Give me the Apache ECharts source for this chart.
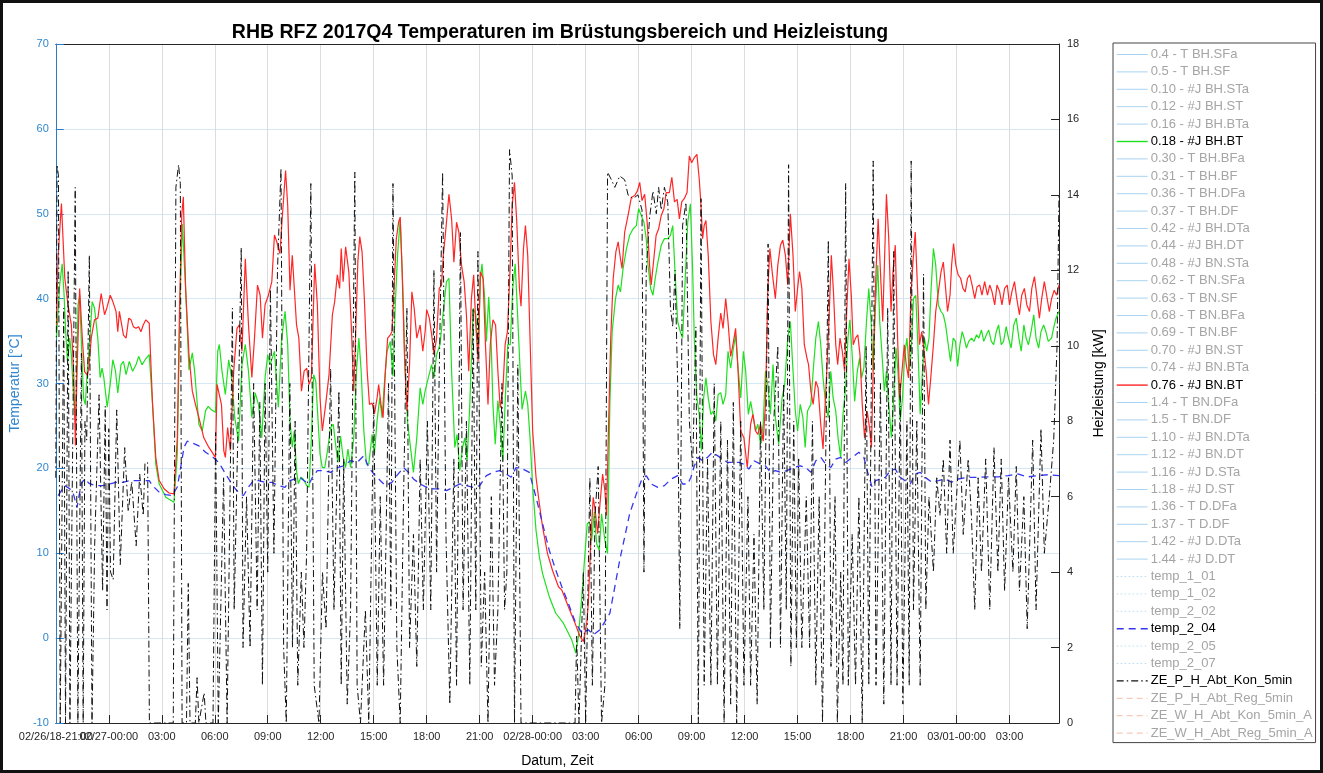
<!DOCTYPE html>
<html>
<head>
<meta charset="utf-8">
<script src="https://cdn.jsdelivr.net/npm/echarts@6/dist/echarts.min.js"></script>
<style>html,body{margin:0;padding:0;background:#fff}#c{width:1323px;height:773px}</style>
</head>
<body>
<div id="c"></div>
<script>
// ---- x axis ticks (hours since 02/27 00:00) ----
const xTickHours = [-3,0,3,6,9,12,15,18,21,24,27,30,33,36,39,42,45,48,51];
const xTickLabels = ['02/26/18-21:00','02/27-00:00','03:00','06:00','09:00','12:00','15:00','18:00','21:00','02/28-00:00','03:00','06:00','09:00','12:00','15:00','18:00','21:00','03/01-00:00','03:00'];

// ---- legend entries ----
const legendNames = ['0.4 - T BH.SFa','0.5 - T BH.SF','0.10 - #J BH.STa','0.12 - #J BH.ST','0.16 - #J BH.BTa','0.18 - #J BH.BT','0.30 - T BH.BFa','0.31 - T BH.BF','0.36 - T BH.DFa','0.37 - T BH.DF','0.42 - #J BH.DTa','0.44 - #J BH.DT','0.48 - #J BN.STa','0.62 - T BN.SFa','0.63 - T BN.SF','0.68 - T BN.BFa','0.69 - T BN.BF','0.70 - #J BN.ST','0.74 - #J BN.BTa','0.76 - #J BN.BT','1.4 - T BN.DFa','1.5 - T BN.DF','1.10 - #J BN.DTa','1.12 - #J BN.DT','1.16 - #J D.STa','1.18 - #J D.ST','1.36 - T D.DFa','1.37 - T D.DF','1.42 - #J D.DTa','1.44 - #J D.DT','temp_1_01','temp_1_02','temp_2_02','temp_2_04','temp_2_05','temp_2_07','ZE_P_H_Abt_Kon_5min','ZE_P_H_Abt_Reg_5min','ZE_W_H_Abt_Kon_5min_A','ZE_W_H_Abt_Reg_5min_A'];

// ---- 0.18 - #J BH.BT (green), [hour, °C] ----
const bhBT = [[-2.96,35.35],[-2.78,41.6],[-2.64,44.1],[-2.53,40.4],[-2.44,36.1],[-2.34,32.6],[-2.21,35.35],[-2.12,33.4],[-1.99,28.3],[-1.88,26.0],[-1.74,39.3],[-1.65,40.4],[-1.56,35.35],[-1.43,28.3],[-1.33,27.5],[-1.22,31.45],[-1.09,34.6],[-0.94,39.65],[-0.81,38.9],[-0.62,35.35],[-0.49,30.7],[-0.38,31.8],[-0.28,30.7],[-0.09,27.2],[0.08,29.9],[0.23,32.8],[0.38,31.45],[0.51,28.9],[0.69,32.2],[0.83,32.6],[0.98,31.05],[1.16,32.6],[1.35,31.45],[1.54,32.2],[1.69,33.2],[1.88,32.2],[2.06,32.8],[2.29,33.4],[2.48,27.5],[2.66,20.5],[2.85,18.2],[3.23,16.6],[3.69,16.0],[3.88,21.7],[4.03,39.3],[4.16,48.8],[4.35,41.2],[4.54,31.6],[4.73,33.6],[4.86,31.45],[5.1,25.2],[5.29,24.4],[5.48,26.8],[5.63,27.3],[5.81,26.9],[6.04,26.6],[6.17,33.8],[6.26,34.6],[6.41,31.45],[6.6,28.7],[6.79,32.8],[6.98,30.3],[7.13,26.0],[7.35,23.2],[7.54,32.2],[7.73,34.6],[7.91,31.45],[8.1,26.0],[8.29,28.9],[8.48,27.5],[8.66,23.6],[8.85,30.7],[9.0,33.4],[9.13,32.2],[9.38,33.8],[9.6,27.2],[9.79,35.35],[9.98,38.5],[10.13,34.6],[10.26,25.6],[10.39,22.5],[10.5,24.4],[10.63,19.7],[10.73,18.2],[10.88,18.95],[11.01,18.75],[11.21,17.97],[11.34,17.77],[11.47,23.6],[11.6,31.05],[11.72,30.27],[11.85,25.6],[11.96,21.7],[12.09,20.1],[12.23,20.1],[12.38,22.07],[12.56,24.8],[12.71,25.2],[12.84,22.85],[12.97,20.7],[13.12,23.8],[13.27,21.3],[13.41,20.1],[13.54,22.27],[13.69,20.1],[13.87,23.6],[14.02,31.45],[14.16,35.35],[14.29,31.45],[14.44,24.4],[14.59,20.5],[14.72,20.5],[14.91,24.0],[15.04,21.7],[15.19,25.6],[15.34,28.3],[15.47,25.98],[15.6,29.88],[15.75,33.8],[15.94,34.96],[16.09,30.86],[16.22,39.26],[16.35,45.1],[16.5,49.4],[16.65,41.2],[16.78,31.45],[16.91,25.6],[17.06,22.85],[17.25,19.53],[17.44,23.6],[17.63,29.5],[17.78,27.54],[17.91,29.1],[18.09,30.66],[18.28,32.23],[18.41,30.66],[18.56,33.4],[18.75,34.57],[18.94,38.48],[19.12,42.0],[19.26,42.4],[19.41,31.45],[19.59,22.46],[19.72,24.0],[19.87,19.73],[20.03,22.46],[20.16,23.6],[20.29,20.9],[20.44,27.54],[20.63,38.87],[20.78,38.1],[20.91,33.4],[21.04,42.4],[21.13,44.1],[21.28,40.2],[21.38,34.96],[21.51,40.2],[21.66,34.18],[21.75,27.54],[21.88,22.85],[22.03,28.0],[22.16,25.2],[22.31,20.9],[22.46,28.7],[22.59,34.57],[22.73,34.57],[22.87,41.2],[23.01,44.1],[23.16,37.5],[23.29,31.45],[23.4,26.95],[23.59,29.1],[23.72,27.54],[23.85,23.6],[24.0,17.77],[24.19,12.7],[24.38,9.57],[24.56,7.6],[24.94,4.88],[25.31,2.93],[25.74,1.76],[26.21,-0.2],[26.44,-1.76],[26.59,0.2],[26.78,4.88],[26.96,9.96],[27.09,13.48],[27.21,13.67],[27.34,11.5],[27.49,14.84],[27.62,11.13],[27.77,10.35],[27.9,14.65],[28.09,11.5],[28.24,9.96],[28.37,27.54],[28.5,36.1],[28.69,40.0],[28.84,41.6],[28.97,40.8],[29.12,43.55],[29.31,45.9],[29.49,47.46],[29.68,48.2],[29.87,48.6],[30.0,50.6],[30.15,49.8],[30.3,49.0],[30.43,47.07],[30.53,43.95],[30.68,41.2],[30.81,40.4],[30.94,42.4],[31.09,44.3],[31.28,46.3],[31.46,47.07],[31.65,47.07],[31.8,47.46],[31.93,48.6],[32.06,43.16],[32.21,37.3],[32.36,36.1],[32.49,35.35],[32.63,42.0],[32.78,49.0],[32.93,51.17],[33.06,43.16],[33.15,35.35],[33.3,28.3],[33.43,26.37],[33.56,22.07],[33.68,28.3],[33.81,30.66],[33.94,28.3],[34.09,26.37],[34.24,26.76],[34.37,25.6],[34.5,28.7],[34.65,28.9],[34.78,27.54],[34.93,28.7],[35.06,33.8],[35.21,31.8],[35.34,33.8],[35.49,35.74],[35.63,31.8],[35.78,28.3],[35.93,33.8],[36.06,31.45],[36.21,26.37],[36.34,27.9],[36.47,26.37],[36.62,24.4],[36.75,25.2],[36.9,22.85],[37.05,25.2],[37.18,31.45],[37.31,29.88],[37.46,26.37],[37.61,32.23],[37.74,25.98],[37.93,22.85],[38.12,28.3],[38.27,29.88],[38.44,35.35],[38.59,37.3],[38.72,32.23],[38.87,26.76],[39.0,24.4],[39.15,27.54],[39.3,25.98],[39.43,22.46],[39.56,26.76],[39.75,27.54],[39.88,31.45],[40.03,35.35],[40.18,37.3],[40.31,34.57],[40.44,30.66],[40.59,27.54],[40.73,25.98],[40.88,31.45],[41.01,28.3],[41.16,26.76],[41.29,23.6],[41.44,21.3],[41.57,26.37],[41.72,29.5],[41.85,35.35],[41.96,37.5],[42.09,33.4],[42.23,27.9],[42.38,31.45],[42.51,33.0],[42.62,30.66],[42.75,31.8],[42.9,37.3],[43.03,41.2],[43.16,37.3],[43.28,31.45],[43.41,39.26],[43.54,43.95],[43.65,37.3],[43.78,33.4],[43.91,29.1],[44.03,31.45],[44.16,27.54],[44.31,23.6],[44.44,28.3],[44.57,34.2],[44.68,31.45],[44.81,25.6],[44.94,28.3],[45.06,33.4],[45.19,35.35],[45.32,31.45],[45.43,33.8],[45.56,40.0],[45.69,40.4],[45.81,34.57],[45.94,26.37],[46.07,31.45],[46.18,35.35],[46.31,33.8],[46.44,35.35],[46.56,41.2],[46.69,45.9],[46.82,43.95],[46.97,39.26],[47.12,38.48],[47.25,38.1],[47.38,36.9],[47.53,34.57],[47.66,32.6],[47.81,35.35],[47.94,34.96],[48.06,32.0],[48.19,34.57],[48.32,36.1],[48.43,35.35],[48.56,34.18],[48.69,34.96],[48.85,35.35],[48.99,34.96],[49.13,35.74],[49.26,35.35],[49.41,36.3],[49.54,34.96],[49.69,35.74],[49.82,36.3],[49.97,34.96],[50.1,34.57],[50.25,36.1],[50.38,36.9],[50.53,34.57],[50.66,34.96],[50.81,36.7],[50.94,35.35],[51.09,34.18],[51.24,36.9],[51.38,37.7],[51.53,35.35],[51.66,33.8],[51.81,36.9],[51.94,35.35],[52.07,34.57],[52.22,36.1],[52.37,38.1],[52.5,35.35],[52.65,34.18],[52.78,36.1],[52.93,36.9],[53.06,36.1],[53.19,34.96],[53.38,35.35],[53.49,36.5],[53.63,37.7],[53.8,38.5]];

// ---- 0.76 - #J BN.BT (red), [hour, °C] ----
const bnBT = [[-2.96,36.9],[-2.87,45],[-2.68,51.2],[-2.49,42.4],[-2.31,39.3],[-2.21,39.4],[-2.12,36.9],[-1.99,31.4],[-1.89,22.7],[-1.8,31.4],[-1.65,41.2],[-1.5,35.4],[-1.37,31.4],[-1.22,31.0],[-1.13,31.8],[-0.99,35.4],[-0.81,37.5],[-0.62,37.7],[-0.43,40.6],[-0.24,38.1],[-0.11,38.9],[0.08,40.4],[0.23,39.65],[0.41,38.5],[0.51,36.1],[0.6,38.5],[0.69,38.3],[0.83,35.7],[0.98,35.35],[1.13,37.7],[1.26,37.5],[1.39,36.7],[1.54,36.5],[1.69,36.7],[1.82,36.1],[1.95,36.9],[2.1,37.5],[2.29,37.1],[2.48,27.5],[2.66,21.3],[2.85,18.6],[3.13,17.6],[3.41,17.1],[3.69,17.0],[3.88,23.6],[4.01,39.3],[4.13,49.8],[4.22,52.0],[4.35,41.2],[4.54,33.4],[4.73,29.1],[4.91,27.5],[5.1,26.0],[5.38,23.6],[5.66,22.5],[6.04,21.3],[6.13,29.9],[6.23,29.7],[6.38,27.5],[6.51,22.1],[6.6,21.3],[6.73,24.8],[6.88,22.1],[7.07,31.4],[7.26,36.5],[7.39,36.9],[7.54,33.8],[7.73,44.7],[7.91,36.9],[8.1,30.7],[8.25,35.35],[8.42,41.6],[8.57,40.4],[8.7,35.35],[8.85,39.3],[9.04,40.4],[9.23,42.0],[9.38,47.5],[9.51,46.7],[9.69,45.3],[9.83,49.8],[10.01,55.1],[10.13,50.98],[10.26,41.0],[10.39,45.1],[10.5,45.3],[10.63,36.9],[10.76,35.35],[10.91,29.1],[11.06,31.45],[11.21,31.8],[11.34,29.9],[11.47,30.66],[11.66,44.1],[11.81,39.26],[11.96,28.3],[12.09,24.4],[12.28,27.54],[12.47,31.05],[12.66,38.1],[12.79,39.65],[12.94,42.8],[13.07,41.2],[13.16,45.9],[13.27,42.0],[13.41,46.1],[13.5,46.3],[13.59,43.16],[13.72,37.3],[13.87,29.1],[13.97,35.35],[14.1,44.3],[14.21,47.3],[14.34,45.5],[14.47,40.0],[14.63,31.45],[14.76,27.54],[14.91,27.7],[15.04,26.4],[15.19,28.3],[15.28,29.88],[15.41,27.54],[15.53,25.98],[15.66,31.45],[15.79,35.35],[15.94,35.74],[16.03,36.1],[16.16,41.6],[16.28,47.07],[16.41,49.0],[16.5,49.6],[16.61,43.16],[16.74,33.4],[16.88,26.76],[17.03,32.23],[17.16,40.8],[17.29,38.9],[17.44,35.35],[17.63,36.9],[17.78,33.8],[17.91,36.1],[18.0,38.7],[18.15,37.7],[18.28,35.74],[18.41,33.4],[18.56,35.35],[18.71,41.2],[18.84,41.6],[18.94,45.1],[19.07,47.85],[19.26,52.3],[19.41,49.4],[19.54,44.3],[19.69,49.0],[19.82,47.85],[19.97,43.95],[20.12,42.0],[20.25,38.1],[20.38,31.45],[20.53,40.0],[20.66,42.8],[20.78,36.9],[20.91,32.6],[21.04,43.16],[21.19,42.4],[21.32,34.96],[21.47,27.54],[21.6,34.6],[21.75,37.5],[21.9,36.9],[22.03,31.45],[22.16,27.15],[22.31,29.1],[22.44,34.57],[22.57,36.1],[22.73,43.95],[22.84,50.98],[22.97,53.7],[23.1,49.0],[23.25,41.2],[23.34,39.1],[23.48,45.9],[23.59,48.6],[23.72,45.1],[23.85,35.35],[24.0,24.4],[24.19,18.95],[24.38,15.8],[24.56,13.1],[24.84,9.96],[25.12,8.0],[25.46,6.05],[25.65,5.66],[26.02,3.7],[26.4,1.76],[26.68,0.2],[26.87,-0.4],[27.06,1.76],[27.15,4.1],[27.3,11.9],[27.43,16.6],[27.56,14.65],[27.68,12.3],[27.81,15.8],[27.96,19.34],[28.09,17.38],[28.18,14.45],[28.28,23.6],[28.42,35.35],[28.56,42.4],[28.71,45.5],[28.84,46.7],[28.97,44.7],[29.06,43.55],[29.21,47.85],[29.4,49.8],[29.59,51.95],[29.78,52.15],[29.93,52.7],[30.06,53.7],[30.19,51.55],[30.34,52.3],[30.49,48.8],[30.62,43.95],[30.71,41.6],[30.86,44.7],[30.99,47.46],[31.13,48.2],[31.28,49.8],[31.43,50.6],[31.56,52.5],[31.74,52.5],[31.88,54.3],[32.03,51.4],[32.18,51.7],[32.31,49.4],[32.44,51.4],[32.59,51.8],[32.74,52.5],[32.87,56.8],[33.0,56.0],[33.15,56.6],[33.3,57.0],[33.43,54.1],[33.53,51.0],[33.62,47.07],[33.71,48.6],[33.81,49.2],[33.94,45.1],[34.09,37.3],[34.24,33.4],[34.37,32.23],[34.5,35.35],[34.65,38.3],[34.78,36.5],[34.93,40.0],[35.06,37.3],[35.21,33.2],[35.34,34.57],[35.49,36.5],[35.63,31.45],[35.78,24.4],[35.96,23.6],[36.15,20.1],[36.34,25.2],[36.47,26.37],[36.62,24.4],[36.75,24.0],[36.9,25.2],[37.05,23.2],[37.18,27.54],[37.31,40.8],[37.43,45.9],[37.56,43.16],[37.74,40.0],[37.88,43.95],[38.03,46.3],[38.16,46.9],[38.31,45.1],[38.44,41.6],[38.59,50.0],[38.74,45.1],[38.87,38.5],[39.0,41.2],[39.11,43.2],[39.24,41.2],[39.38,34.57],[39.53,33.0],[39.62,32.23],[39.75,29.1],[39.88,27.54],[40.03,30.27],[40.16,29.5],[40.31,25.2],[40.44,22.3],[40.56,27.54],[40.65,31.45],[40.78,37.7],[40.91,45.1],[41.03,40.8],[41.16,34.57],[41.27,32.23],[41.4,35.35],[41.53,33.8],[41.66,31.45],[41.78,38.48],[41.91,44.7],[42.04,40.4],[42.15,34.57],[42.28,35.35],[42.41,35.74],[42.53,33.4],[42.66,27.54],[42.79,23.6],[42.94,26.76],[43.07,24.8],[43.18,22.46],[43.31,34.57],[43.44,43.16],[43.56,49.4],[43.69,43.16],[43.82,37.3],[43.93,45.1],[44.03,52.3],[44.16,47.07],[44.29,38.48],[44.4,43.16],[44.53,46.3],[44.66,35.35],[44.78,28.3],[44.91,31.45],[45.04,34.57],[45.15,32.23],[45.28,30.66],[45.41,40.0],[45.53,44.3],[45.66,47.85],[45.79,41.2],[45.9,34.57],[46.03,36.1],[46.16,33.8],[46.28,31.45],[46.41,27.54],[46.54,30.66],[46.69,34.57],[46.82,38.48],[46.97,40.8],[47.12,43.16],[47.25,44.3],[47.38,41.2],[47.49,38.48],[47.63,40.4],[47.72,43.95],[47.83,46.5],[47.96,43.95],[48.09,42.8],[48.23,42.4],[48.36,41.2],[48.49,40.8],[48.62,42.4],[48.75,42.8],[48.88,41.6],[49.03,40.0],[49.16,41.4],[49.31,41.6],[49.44,40.4],[49.59,42.0],[49.75,40.4],[49.88,41.6],[50.01,40.8],[50.16,39.26],[50.29,41.6],[50.44,40.8],[50.57,39.26],[50.72,41.2],[50.87,41.6],[51.0,39.26],[51.13,40.8],[51.28,42.0],[51.41,40.0],[51.56,38.1],[51.69,40.4],[51.84,41.2],[51.98,39.26],[52.13,38.48],[52.26,41.2],[52.41,42.6],[52.54,40.4],[52.69,37.7],[52.82,40.0],[52.97,42.0],[53.1,40.4],[53.25,38.48],[53.38,40.0],[53.53,41.0],[53.66,40.4],[53.8,41.6]];

// ---- temp_2_04 (blue dashed), [hour, °C] ----
const temp204 = [[-2.87,16.8],[-2.49,17.97],[-2.21,17.6],[-2.03,17.2],[-1.8,15.4],[-1.56,18.2],[-1.37,18.75],[-1.09,18.2],[-0.71,17.97],[-0.34,17.97],[0.04,18.16],[0.41,18.36],[0.79,18.36],[1.16,18.55],[1.54,18.55],[1.91,18.55],[2.29,18.55],[2.48,17.97],[2.85,17.2],[3.23,16.9],[3.6,16.8],[3.88,17.8],[4.07,20.1],[4.26,22.5],[4.44,23.2],[4.73,23.0],[5.1,22.65],[5.48,21.9],[5.85,21.4],[6.23,20.7],[6.51,19.7],[6.79,18.75],[7.16,17.6],[7.44,17.0],[7.63,16.8],[7.91,17.8],[8.19,18.55],[8.48,18.55],[8.85,18.36],[9.23,18.36],[9.6,17.97],[9.98,17.77],[10.26,18.55],[10.54,18.75],[10.82,18.95],[11.06,18.55],[11.34,18.16],[11.53,18.95],[11.81,19.73],[12.19,19.73],[12.56,19.53],[12.94,20.1],[13.31,20.3],[13.69,20.9],[14.06,20.7],[14.44,21.5],[14.72,20.1],[15.0,19.34],[15.38,18.55],[15.66,17.97],[16.03,18.36],[16.31,19.14],[16.69,20.1],[16.97,19.53],[17.25,18.75],[17.63,18.16],[18.0,17.77],[18.37,17.58],[18.75,17.58],[19.12,17.38],[19.5,17.77],[19.87,18.16],[20.25,17.97],[20.63,17.77],[21.0,17.97],[21.38,19.14],[21.75,19.53],[22.13,19.73],[22.5,19.34],[22.78,18.95],[23.06,20.1],[23.44,19.92],[23.81,19.53],[24.19,16.6],[24.56,13.48],[24.94,10.35],[25.31,8.0],[25.65,6.05],[26.02,4.1],[26.4,1.95],[26.78,0.59],[27.15,0.98],[27.43,0.39],[27.81,0.98],[28.09,1.95],[28.37,2.93],[28.65,6.05],[28.93,9.2],[29.21,11.9],[29.49,14.65],[29.87,17.0],[30.15,18.55],[30.43,19.14],[30.71,18.16],[31.09,17.77],[31.46,17.97],[31.84,18.75],[32.21,19.14],[32.49,18.16],[32.78,18.16],[32.96,18.95],[33.15,20.3],[33.38,21.3],[33.62,20.9],[33.9,21.3],[34.18,21.9],[34.46,21.5],[34.74,21.1],[35.03,20.7],[35.4,20.7],[35.68,20.7],[35.96,20.5],[36.24,19.92],[36.53,20.9],[36.9,20.5],[37.18,20.3],[37.46,19.53],[37.74,19.73],[38.03,19.53],[38.4,19.73],[38.78,20.1],[39.15,20.3],[39.47,20.1],[39.75,19.53],[40.03,20.9],[40.31,21.3],[40.59,20.5],[40.88,20.1],[41.16,21.1],[41.44,21.3],[41.72,20.7],[42.09,21.3],[42.47,21.9],[42.75,21.3],[42.94,19.73],[43.22,17.77],[43.41,18.55],[43.69,18.75],[43.97,18.95],[44.25,19.73],[44.53,19.92],[44.81,18.95],[45.09,18.55],[45.38,18.16],[45.66,19.34],[45.94,19.53],[46.22,18.95],[46.6,18.36],[46.97,18.55],[47.35,18.75],[47.72,18.36],[48.09,18.75],[48.66,18.95],[49.22,18.95],[49.78,19.0],[50.34,19.0],[50.91,19.14],[51.47,19.34],[52.03,19.0],[52.6,19.14],[53.16,19.25],[53.8,19.14]];

// ---- ZE_P_H_Abt_Kon_5min (black dash-dot), [hour, kW] ----
const pHKon = [[-3.0,6.5],[-2.93,14.8],[-2.85,14.5],[-2.75,0],[-2.55,11],[-2.45,0],[-2.3,12],[-2.2,0],[-1.9,14.2],[-1.75,0],[-1.55,9.8],[-1.45,0],[-1.35,8],[-1.25,7.5],[-1.1,12.4],[-0.95,0],[-0.8,4.7],[-0.55,8.7],[-0.35,3.5],[-0.2,8.4],[-0.1,3],[0,7.8],[0.1,4],[0.25,3.8],[0.45,8.3],[0.65,4.2],[0.9,7.3],[1.1,5.6],[1.3,6.4],[1.55,4.7],[1.75,6.6],[1.95,5.5],[2.05,6.9],[2.2,6.9],[2.3,0],[3.65,0],[3.8,14.2],[3.95,14.8],[4.05,14.3],[4.15,0],[4.4,0],[4.5,3.7],[4.6,0],[4.9,0],[5.0,1.2],[5.1,0],[5.4,0.8],[5.5,0],[5.9,0],[6.05,7.7],[6.2,0],[6.5,6.5],[6.7,0],[7.0,11],[7.1,3],[7.3,7.5],[7.5,12.6],[7.6,2],[7.8,6],[8.0,2],[8.2,9],[8.4,3],[8.55,8.5],[8.7,1],[8.85,9],[9.0,4],[9.15,11.5],[9.35,4.5],[9.55,12],[9.75,14.7],[9.9,2],[10.05,0],[10.25,9],[10.4,2],[10.55,8],[10.7,1],[10.9,4],[11.05,2],[11.2,4.5],[11.44,14.3],[11.63,1],[11.9,0],[12.1,4],[12.3,2.5],[12.56,9.4],[12.75,3],[13.03,8.8],[13.16,1],[13.3,7],[13.5,0.5],[13.69,3],[13.93,14.6],[14.06,1],[14.25,0],[14.53,3],[14.72,0],[15.0,8.5],[15.2,1],[15.37,6],[15.56,1],[15.84,9],[15.97,3],[16.09,14.3],[16.31,2],[16.5,0],[16.69,6],[16.88,11],[17.03,2],[17.25,5],[17.44,1.5],[17.63,7],[17.81,3],[18.04,8],[18.23,3],[18.41,12],[18.56,4],[18.7,9],[18.9,14.6],[19.09,5],[19.31,0.5],[19.54,7],[19.69,1],[19.91,13],[20.06,3],[20.25,8],[20.44,1],[20.63,11],[20.78,3],[20.9,12.5],[21.09,1.5],[21.28,4],[21.47,0],[21.66,6],[21.84,1],[22.03,3],[22.26,9],[22.41,3],[22.54,4],[22.69,15.2],[22.84,14.5],[22.97,0],[23.16,9.5],[23.34,0],[26.4,0],[26.49,2.3],[26.62,0],[26.87,4],[27.0,0],[27.24,6.5],[27.38,1],[27.53,5.5],[27.71,6.8],[27.9,0],[28.09,1],[28.24,14.6],[28.46,14.4],[28.65,14.2],[28.93,14.5],[29.21,14.4],[29.4,14.0],[29.68,13.9],[29.96,14.0],[30.19,13.6],[30.3,4],[30.43,12],[30.62,13.4],[30.81,14.1],[31.0,13.5],[31.13,14.2],[31.28,13.6],[31.46,14.2],[31.65,13.8],[31.8,11],[31.93,10.5],[32.06,12],[32.21,9],[32.33,2.5],[32.49,13.2],[32.68,13.8],[32.87,8],[33.06,6.8],[33.24,10.5],[33.38,0],[33.53,13.9],[33.71,1],[33.9,7],[34.09,1],[34.28,9],[34.46,1],[34.65,8],[34.84,0],[35.03,7.5],[35.21,0.5],[35.36,8.5],[35.55,0],[35.78,8],[35.96,1],[36.19,6],[36.34,1],[36.53,5],[36.71,0.5],[36.9,8],[37.09,3],[37.33,12.7],[37.46,2],[37.65,8],[37.88,10],[38.03,2],[38.21,9],[38.36,3],[38.49,14.8],[38.62,1.5],[38.78,8],[38.93,2],[39.06,7],[39.24,2],[39.49,6],[39.68,2],[39.84,8],[40.03,1],[40.22,6],[40.41,0],[40.74,12.8],[40.89,1.5],[41.12,6],[41.25,0],[41.44,4],[41.57,1],[41.72,14.3],[41.87,1],[42.09,5],[42.28,1],[42.47,6],[42.66,0],[42.88,10],[43.03,1],[43.28,14.9],[43.44,1],[43.69,9],[43.88,0.5],[44.1,11],[44.29,1],[44.44,12.5],[44.63,1],[44.81,9],[44.96,0.5],[45.19,8],[45.32,1],[45.43,14.9],[45.56,3],[45.75,8],[45.94,1],[46.13,11.9],[46.26,3],[46.44,6],[46.69,4],[46.88,6.5],[47.06,5.5],[47.25,7],[47.44,4.5],[47.63,7.5],[47.81,4.5],[48.0,6],[48.19,7.5],[48.38,5],[48.66,7],[48.84,5.5],[49.03,3],[49.22,6.5],[49.41,4],[49.65,7],[49.88,3],[50.12,7.3],[50.34,4],[50.53,7],[50.72,3.5],[50.94,6.5],[51.19,4],[51.38,6.8],[51.56,3.5],[51.81,6],[52.0,2.5],[52.31,7.5],[52.5,3],[52.78,7.8],[52.97,4.5],[53.25,6],[53.5,7.5],[53.69,10],[53.8,14]];

const FONT = 'Liberation Sans, Arial, sans-serif';
const chart = echarts.init(document.getElementById('c'), null, {renderer: 'canvas'});

const activeStyle = {
  '0.18 - #J BH.BT': {data: bhBT, y: 0, color: '#1ee01e', width: 1.2, type: 'solid'},
  '0.76 - #J BN.BT': {data: bnBT, y: 0, color: '#ff2626', width: 1.2, type: 'solid'},
  'temp_2_04': {data: temp204, y: 0, color: '#3535f2', width: 1.3, type: [7, 5]},
  'ZE_P_H_Abt_Kon_5min': {data: pHKon, y: 1, color: '#111111', width: 1, type: [7, 3, 1.5, 3]}
};

function inactiveLine(name) {
  if (name.indexOf('temp_') === 0) return {color: '#b9dcf5', type: [1.5, 2.5]};
  if (name.indexOf('ZE_') === 0) return {color: '#f5bea4', type: [6, 4]};
  return {color: '#a9d3f2', type: 'solid'};
}

const series = [];
const order = ['0.18 - #J BH.BT', '0.76 - #J BN.BT', 'temp_2_04', 'ZE_P_H_Abt_Kon_5min'];
legendNames.forEach(n => {
  if (activeStyle[n]) return;
  const s = inactiveLine(n);
  series.push({name: n, type: 'line', data: [], yAxisIndex: 0, symbol: 'none', lineStyle: {color: s.color, width: 1, type: s.type}, itemStyle: {color: s.color}});
});
order.forEach(n => {
  const a = activeStyle[n];
  series.push({name: n, type: 'line', data: a.data, yAxisIndex: a.y, symbol: 'none', showSymbol: false, z: 3,
    lineStyle: {color: a.color, width: a.width, type: a.type}, itemStyle: {color: a.color}});
});

const legendData = legendNames.map(n => {
  const a = activeStyle[n];
  const s = a ? {color: a.color, type: a.type} : inactiveLine(n);
  return {name: n, textStyle: {color: a ? '#000000' : '#a5a5a5'},
    lineStyle: {color: s.color, type: s.type, width: a ? 1.4 : 1}, itemStyle: {opacity: 0}};
});

function xLabel(v) {
  for (let i = 0; i < xTickHours.length; i++) if (Math.abs(v - xTickHours[i]) < 1e-6) return xTickLabels[i];
  return '';
}
function xFirstLabel(v) {
  return Math.abs(v - xTickHours[0]) < 1e-6 ? xTickLabels[0] : '';
}

const xBase = {type: 'value', min: -3, max: 53.8, interval: 3};
chart.setOption({
  animation: false,
  backgroundColor: '#ffffff',
  title: {
    text: 'RHB RFZ 2017Q4 Temperaturen im Brüstungsbereich und Heizleistung',
    left: 555, top: 18, textAlign: 'center',
    textStyle: {fontFamily: FONT, fontSize: 19.5, fontWeight: 'bold', color: '#000'}
  },
  legend: {
    orient: 'vertical', left: 1113, top: 43,
    padding: [5, 3, 3, 3],
    itemWidth: 31, itemHeight: 13, itemGap: 4.4,
    borderColor: '#444', borderWidth: 1,
    itemStyle: {opacity: 0},
    lineStyle: {width: 1},
    textStyle: {fontFamily: FONT, fontSize: 13, lineHeight: 13, padding: [0, 0, 0, -2]},
    data: legendData,
    selectedMode: false
  },
  grid: {left: 51, right: 264, top: 44, bottom: 46, containLabel: false},
  xAxis: [Object.assign({}, xBase, {
    position: 'bottom',
    axisLine: {onZero: false, lineStyle: {color: '#262626', width: 1}},
    axisTick: {inside: true, length: 8, lineStyle: {color: '#262626'}},
    axisLabel: {formatter: xLabel, fontFamily: FONT, fontSize: 11, color: '#262626', margin: 8,
      showMinLabel: false, showMaxLabel: false},
    splitLine: {show: true, lineStyle: {color: '#dcdcdc', width: 1}},
    name: 'Datum, Zeit', nameLocation: 'middle', nameGap: 31,
    nameTextStyle: {fontFamily: FONT, fontSize: 14, color: '#000'}
  }), Object.assign({}, xBase, {
    position: 'top',
    axisLine: {show: true, onZero: false, lineStyle: {color: '#262626', width: 1}},
    axisTick: {show: false}, axisLabel: {show: false}, splitLine: {show: false}
  }), Object.assign({}, xBase, {
    position: 'bottom',
    axisLine: {show: false, onZero: false}, axisTick: {show: false}, splitLine: {show: false},
    axisLabel: {formatter: xFirstLabel, fontFamily: FONT, fontSize: 11, color: '#262626', margin: 8,
      showMinLabel: true, showMaxLabel: false}
  })],
  yAxis: [{
    type: 'value', min: -10, max: 70, interval: 10, position: 'left',
    axisLine: {show: true, onZero: false, lineStyle: {color: '#2b7cc4', width: 1}},
    axisTick: {show: true, inside: true, length: 8, lineStyle: {color: '#2b7cc4'}},
    axisLabel: {fontFamily: FONT, fontSize: 11, color: '#2f86cf', margin: 7},
    splitLine: {show: true, lineStyle: {color: '#d6e7f5', width: 1}},
    name: 'Temperatur [°C]', nameLocation: 'middle', nameGap: 22, nameRotate: 90,
    nameTextStyle: {fontFamily: FONT, fontSize: 14, color: '#2f86cf'}
  }, {
    type: 'value', min: 0, max: 18, interval: 2, position: 'right',
    axisLine: {show: true, onZero: false, lineStyle: {color: '#262626', width: 1}},
    axisTick: {show: true, inside: true, length: 8, lineStyle: {color: '#262626'}},
    axisLabel: {fontFamily: FONT, fontSize: 11, color: '#262626', margin: 8},
    splitLine: {show: false},
    name: 'Heizleistung [kW]', nameLocation: 'middle', nameGap: 33, nameRotate: 90,
    nameTextStyle: {fontFamily: FONT, fontSize: 14, color: '#000'}
  }],
  graphic: [{
    type: 'rect', silent: true, z: 100,
    shape: {x: 1.5, y: 1.5, width: 1320, height: 770},
    style: {fill: 'none', stroke: '#111', lineWidth: 3}
  }],
  series: series
});
</script>
</body>
</html>
